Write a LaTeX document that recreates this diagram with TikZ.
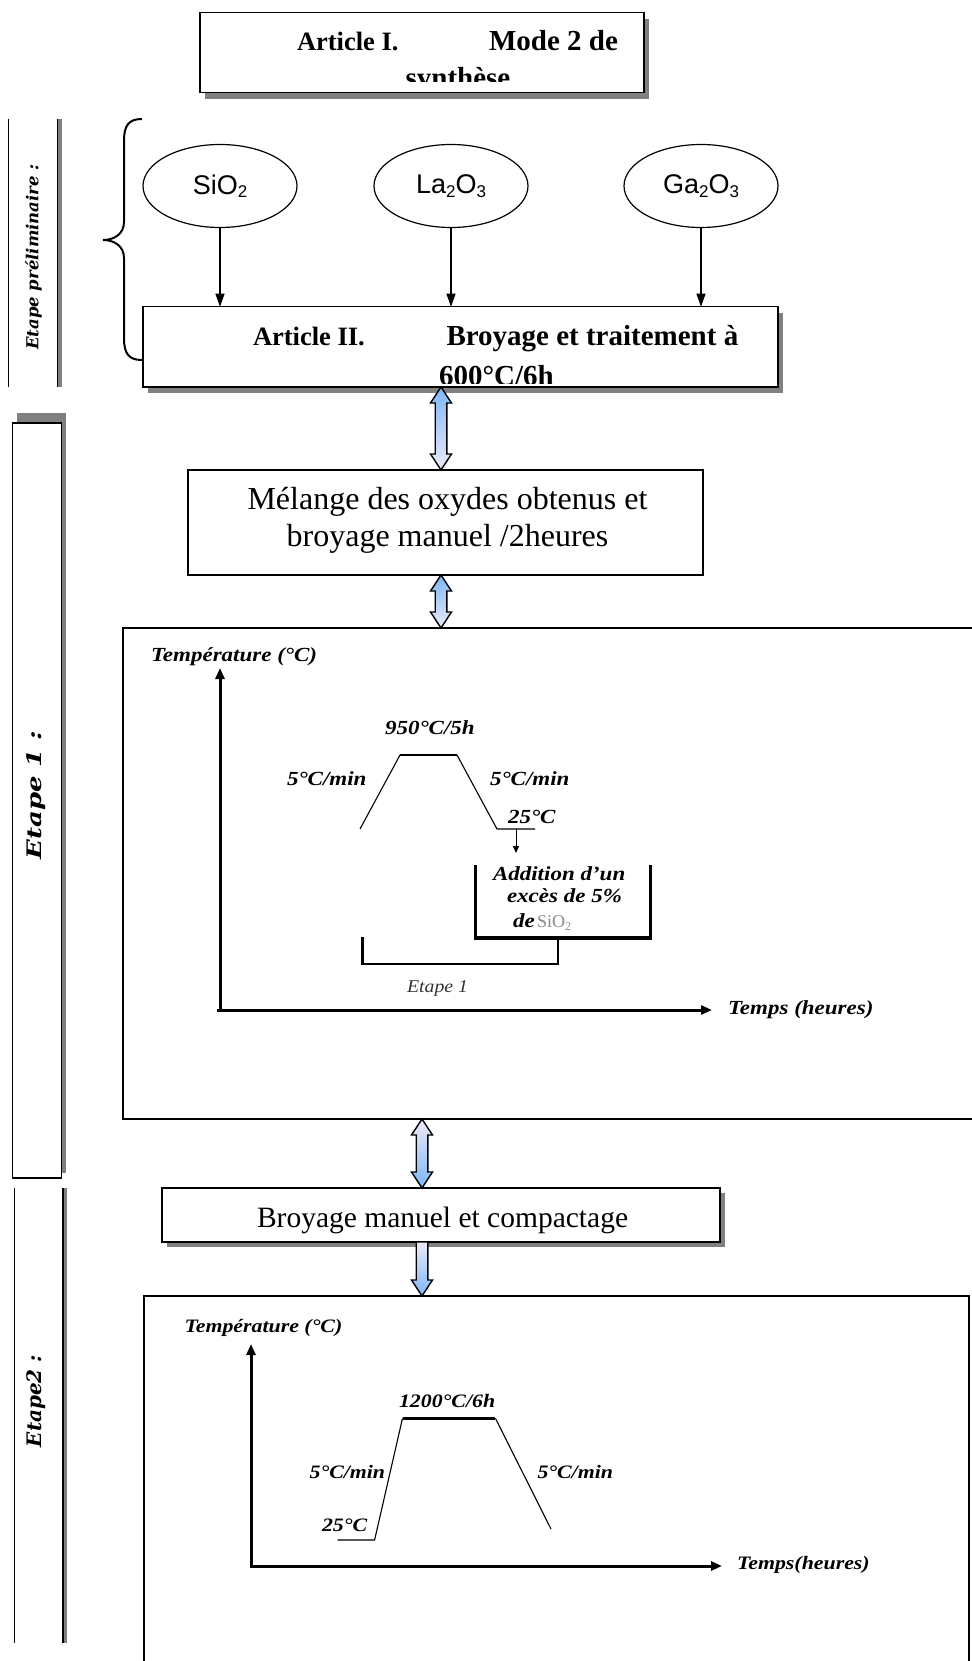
\documentclass[tikz,border=0pt]{standalone}
\usepackage{fontspec}
\setmainfont{Liberation Serif}
\newfontfamily\arialf{Liberation Sans}
\newfontfamily\slabf{DejaVu Serif}
\usetikzlibrary{arrows.meta,shapes.geometric,calc,backgrounds}
\definecolor{shadowgray}{HTML}{808080}
\definecolor{arrowblue}{HTML}{7DB6F5}
\definecolor{arrowlav}{HTML}{ECEAF9}
\definecolor{sigray}{HTML}{8A8A8A}
\newcommand{\fs}[1]{\fontsize{#1}{#1}\selectfont}
\newcommand{\chem}[1]{\raisebox{-3.5pt}{\fs{17}#1}}
\newcommand{\cbi}[2]{\scalebox{1.15}[1]{\fs{#1}\bfseries\itshape #2}}
\newcommand{\dblarrow}[3]{\path[#1] (#2) -- ++(10.5,16) -- ++(-4.7,0) -- ($(#3)+(5.8,-16)$) -- ++(4.7,0) -- (#3) -- ++(-10.5,-16) -- ++(4.7,0) -- ($(#2)+(-5.8,16)$) -- ++(-4.7,0) -- cycle;}
\begin{document}
\begin{tikzpicture}[x=1pt,y=-1pt,
  box/.style={draw, line width=1.6pt, fill=white, rectangle, inner sep=0pt, outer sep=0pt},
  oval/.style={draw, ellipse, line width=1.2pt, minimum width=154pt, minimum height=83pt, inner sep=0pt, outer sep=0pt},
  feed/.style={line width=1.2pt, -{Triangle[length=13pt,width=9pt]}},
  axisline/.style={line width=3pt, -{Triangle[length=11pt,width=9pt]}},
  lbl/.style={inner sep=0pt, outer sep=0pt, anchor=base west},
  prof/.style={line width=1.1pt},
  plat/.style={line width=2.4pt},
  shadowf/.style={fill=shadowgray},
  blkdown/.style={draw, line width=1.4pt, line join=miter, top color=arrowblue, bottom color=arrowlav},
  blkup/.style={draw, line width=1.4pt, line join=miter, top color=arrowlav, bottom color=arrowblue},
  sidetext/.style={rotate=90, inner sep=0pt},
]
\useasboundingbox (0,0) rectangle (971,1661);

% ---------- Title ----------
\node[box, minimum width=444pt, minimum height=80pt] (title) at (422,52.7) {};
\node[lbl] (t1a) at (297,51) {\fs{26.5}\bfseries Article I.};
\node[lbl] (t1b) at (489,51) {\fs{29}\bfseries Mode 2 de};
\begin{scope}
  \clip (200,13) rectangle (644,82);
  \node[inner sep=0pt, anchor=base] (t1c) at (458,88) {\fs{29}\bfseries synthèse};
\end{scope}

% ---------- Etape preliminaire sidebar ----------
\draw[line width=1pt] (8,119) -- (8,387);
\draw[line width=4pt, shadowgray] (60,119) -- (60,387);
\draw[line width=1.2pt] (57.5,119) -- (57.5,387);
\node[sidetext] (sbpre) at (33.5,257) {\slabf\fs{16.5}\bfseries\itshape Etape préliminaire :};

% brace
\draw[line width=2pt] (142,119) .. controls (129,119) and (124,125) .. (124,141) -- (124,222)
  .. controls (124,234) and (114,240) .. (103,240)
  .. controls (114,240) and (124,246) .. (124,258) -- (124,338)
  .. controls (124,354) and (129,360) .. (142,360);

% ---------- Oxides ----------
\node[oval] (e1) at (220,186) {\arialf\fs{27}SiO\chem{2}};
\node[oval] (e2) at (451,186) {\arialf\fs{27}La\chem{2}O\chem{3}};
\node[oval] (e3) at (701,186) {\arialf\fs{27}Ga\chem{2}O\chem{3}};

% ---------- Article II box ----------
\node[box, minimum width=635.3pt, minimum height=80.3pt] (art2) at (460.35,346.85) {};
\node[lbl] (a2a) at (253,345) {\fs{26.5}\bfseries Article II.};
\node[lbl] (a2b) at (446.5,345) {\fs{29}\bfseries Broyage et traitement à};
\begin{scope}
  \clip (143,307) rectangle (778,383.5);
  \node[lbl] (a2c) at (439,385.5) {\fs{29}\bfseries 600°C/6h};
\end{scope}

\draw[feed] (e1.south) -- (e1.south |- art2.north);
\draw[feed] (e2.south) -- (e2.south |- art2.north);
\draw[feed] (e3.south) -- (e3.south |- art2.north);

% ---------- Melange box ----------
\node[box, minimum width=515.3pt, minimum height=105pt] (mel) at (445.35,522.5) {};
\node[inner sep=0pt, anchor=base] (m1) at (447.5,509) {\fs{32}Mélange des oxydes obtenus et};
\node[inner sep=0pt, anchor=base] (m2) at (447.5,546.5) {\fs{32}broyage manuel /2heures};

% ---------- Etape 1 sidebar ----------
\node[box, line width=1.5pt, minimum width=49pt, minimum height=755pt] (sb1) at (37.2,800.5) {};
\node[sidetext] (sb1t) at (36,795) {\scalebox{1.3}[1]{\slabf\fs{20}\bfseries\itshape Etape 1 :}};

% ---------- Chart 1 ----------
\node[minimum width=870pt, minimum height=491pt, inner sep=0pt, outer sep=0pt] (ch1) at (558,873.5) {};
\draw[line width=1.5pt] (ch1.north east) -- (ch1.north west) -- (ch1.south west) -- (ch1.south east);

\coordinate (o1) at (220,1010);
\draw[axisline] (o1) -- (220,668);
\draw[axisline] (217,1010) -- (712,1010);
\node[lbl] (c1ty) at (151,661) {\cbi{20}{Température (°C)}};
\node[lbl] (c1tx) at (728,1014) {\cbi{20}{Temps (heures)}};
\node[lbl] (c1pk) at (385,734) {\cbi{20}{950°C/5h}};
\node[lbl] (c1r1) at (287,785) {\cbi{20}{5°C/min}};
\node[lbl] (c1r2) at (490,785) {\cbi{20}{5°C/min}};
\node[lbl] (c1rt) at (508,823) {\cbi{20}{25°C}};
\draw[prof] (360,829) -- (400,755);
\draw[plat] (400,755) -- (457,755);
\draw[prof] (457,755) -- (497,829) -- (535,829);
\draw[line width=1pt, -{Triangle[length=7pt,width=6pt]}] (516,829) -- (516,853);
\draw[line width=3.5pt, line join=miter] (475.7,865) -- (475.7,938) -- (650.7,938) -- (650.7,865);
\draw[line width=2.5pt, line join=miter] (362.7,937) -- (362.7,964) -- (558,964) -- (558,938);
\node[lbl] (add1) at (493,880) {\cbi{20}{Addition d'un}};
\node[lbl] (add2) at (507,902) {\cbi{20}{excès de 5\%}};
\node[lbl] (add3) at (513,927) {\cbi{20}{de} {\color{sigray}\fs{18}SiO\raisebox{-3pt}{\fs{12}2}}};
\node[lbl] (et1) at (407,992) {\scalebox{1.1}[1]{\color{black!80}\fs{18}\itshape Etape 1}};

% ---------- Broyage box ----------
\node[box, minimum width=558pt, minimum height=54pt] (broy) at (441,1215) {};
\node[lbl] (br1) at (257,1227) {\fs{29.5}Broyage manuel et compactage};

% ---------- Etape 2 sidebar ----------
\draw[line width=1pt] (14,1188) -- (14,1643);
\draw[line width=3.5pt, shadowgray] (65,1188) -- (65,1643);
\draw[line width=1.2pt] (63,1188) -- (63,1643);
\node[sidetext] (sb2t) at (36,1401) {\slabf\fs{20}\bfseries\itshape Etape2 :};

% ---------- Chart 2 ----------
\node[minimum width=825pt, minimum height=424pt, inner sep=0pt, outer sep=0pt] (ch2) at (556.5,1508) {};
\draw[line width=1.5pt] (ch2.south west) -- (ch2.north west) -- (ch2.north east) -- (ch2.south east);

\draw[axisline] (251,1566) -- (251,1344);
\draw[axisline] (249.5,1566) -- (722,1566);
\node[lbl] (c2ty) at (184.5,1332) {\cbi{19}{Température (°C)}};
\node[lbl] (c2tx) at (737,1569) {\cbi{19}{Temps(heures)}};
\node[lbl] (c2pk) at (399,1407) {\cbi{19}{1200°C/6h}};
\node[lbl] (c2r1) at (309.6,1478) {\cbi{19}{5°C/min}};
\node[lbl] (c2r2) at (537.5,1478) {\cbi{19}{5°C/min}};
\node[lbl] (c2rt) at (322,1531) {\cbi{19}{25°C}};
\draw[prof] (337.5,1540) -- (374.6,1540) -- (402.5,1418.3);
\draw[plat] (402.5,1418.3) -- (495.4,1418.3);
\draw[prof] (495.4,1418.3) -- (551,1529);

% ---------- Block arrows ----------
\coordinate (ax1) at (441,0);
\coordinate (ax3) at (422,0);
\coordinate (a1t) at (ax1 |- art2.south);
\coordinate (a1b) at (ax1 |- mel.north);
\coordinate (a2t) at (ax1 |- mel.south);
\coordinate (a2b) at (ax1 |- ch1.north);
\coordinate (a3t) at (ax3 |- ch1.south);
\coordinate (a3b) at (ax3 |- broy.north);
\coordinate (a4t) at (ax3 |- broy.south);
\coordinate (a4b) at (ax3 |- ch2.north);
\dblarrow{blkdown}{a1t}{a1b}
\dblarrow{blkdown}{a2t}{a2b}
\dblarrow{blkup}{a3t}{a3b}
\path[blkup] ($(a4t)+(5.8,0)$) -- ($(a4b)+(5.8,-16)$) -- ++(4.7,0) -- (a4b) -- ++(-10.5,-16) -- ++(4.7,0) -- ($(a4t)+(-5.8,0)$) -- cycle;

% ---------- Shadows ----------
\begin{scope}[on background layer]
  \fill[shadowf] ($(title.south west)+(5,6)$) rectangle ($(title.north east)+(5,6)$);
  \fill[shadowf] ($(art2.south west)+(5,6)$) rectangle ($(art2.north east)+(5,6)$);
  \fill[shadowf] ($(broy.south west)+(5,5)$) rectangle ($(broy.north east)+(5,5)$);
  \fill[shadowf] ($(sb1.south west)+(4,-5)$) rectangle ($(sb1.north east)+(4,-10)$);
\end{scope}
\end{tikzpicture}
\end{document}
